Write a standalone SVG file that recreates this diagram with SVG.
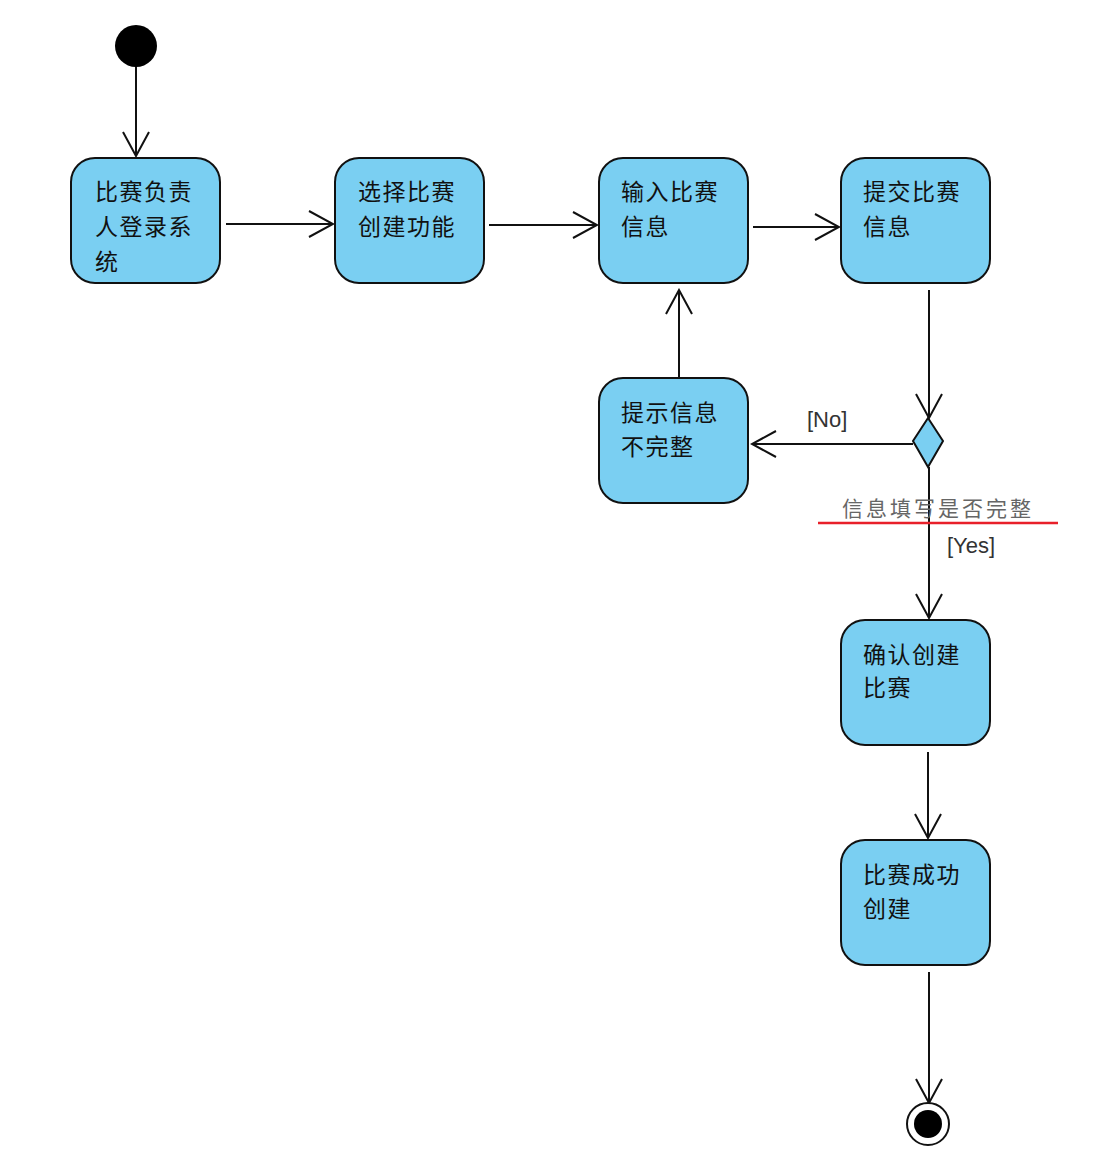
<svg xmlns="http://www.w3.org/2000/svg" width="1094" height="1153" viewBox="0 0 1094 1153">
<style>
.node rect{fill:#7ACFF2;stroke:#111;stroke-width:2}
.node text{font-family:"Noto Sans CJK SC","Liberation Sans",sans-serif;font-size:23px;letter-spacing:1.5px;fill:#111;dominant-baseline:central}
.conn line{stroke:#111;stroke-width:2;fill:none}
.lbl{font-family:"Liberation Sans",Arial,sans-serif;font-size:22px;fill:#333;dominant-baseline:central}
.guard{font-family:"Noto Sans CJK SC",sans-serif;font-size:21px;letter-spacing:3px;fill:#666;dominant-baseline:central}
</style>
<defs>
<marker id="arr" markerUnits="userSpaceOnUse" viewBox="-26 -15 28 30" refX="0" refY="0" markerWidth="28" markerHeight="30" orient="auto">
<path d="M-24,-13 L0,0 L-24,13" fill="none" stroke="#111" stroke-width="2"/>
</marker>
</defs>
<rect width="1094" height="1153" fill="#fff"/>
<g id="connectors" class="conn">
<line x1="136" y1="67" x2="136" y2="156" marker-end="url(#arr)"/>
<line x1="226" y1="224" x2="333" y2="224" marker-end="url(#arr)"/>
<line x1="489" y1="225" x2="597" y2="225" marker-end="url(#arr)"/>
<line x1="753" y1="227" x2="839" y2="227" marker-end="url(#arr)"/>
<line x1="929" y1="290" x2="929" y2="418" marker-end="url(#arr)"/>
<line x1="913" y1="444" x2="752" y2="444" marker-end="url(#arr)"/>
<line x1="679" y1="377" x2="679" y2="290" marker-end="url(#arr)"/>
<line x1="929" y1="467" x2="929" y2="618" marker-end="url(#arr)"/>
<line x1="928" y1="752" x2="928" y2="838" marker-end="url(#arr)"/>
<line x1="929" y1="972" x2="929" y2="1103" marker-end="url(#arr)"/>
<text class="lbl" x="807" y="419">[No]</text>
<text class="lbl" x="947" y="545">[Yes]</text>
<text class="guard" x="842" y="507">信息填写是否完整</text>
<line x1="818" y1="523" x2="1058" y2="523" style="stroke:#e8202a;stroke-width:2.5"/>
</g>
<g id="start"><circle cx="136" cy="46" r="21" fill="#000"/></g>
<g id="n1" class="node"><rect x="71" y="158" width="149" height="125" rx="24"/>
<text x="95" y="190">比赛负责</text><text x="95" y="225">人登录系</text><text x="95" y="260">统</text></g>
<g id="n2" class="node"><rect x="335" y="158" width="149" height="125" rx="24"/>
<text x="358" y="190">选择比赛</text><text x="358" y="225">创建功能</text></g>
<g id="n3" class="node"><rect x="599" y="158" width="149" height="125" rx="24"/>
<text x="621" y="190">输入比赛</text><text x="621" y="225">信息</text></g>
<g id="n4" class="node"><rect x="841" y="158" width="149" height="125" rx="24"/>
<text x="863" y="190">提交比赛</text><text x="863" y="225">信息</text></g>
<g id="decision"><polygon points="928,418 943,441 928,467 913,441" fill="#7ACFF2" stroke="#111" stroke-width="2"/></g>
<g id="n5" class="node"><rect x="599" y="378" width="149" height="125" rx="24"/>
<text x="621" y="411">提示信息</text><text x="621" y="445">不完整</text></g>
<g id="n6" class="node"><rect x="841" y="620" width="149" height="125" rx="24"/>
<text x="863" y="653">确认创建</text><text x="863" y="686">比赛</text></g>
<g id="n7" class="node"><rect x="841" y="840" width="149" height="125" rx="24"/>
<text x="863" y="873">比赛成功</text><text x="863" y="907">创建</text></g>
<g id="end"><circle cx="928" cy="1124" r="21" fill="#fff" stroke="#111" stroke-width="2"/><circle cx="928" cy="1124" r="14" fill="#000"/></g>
</svg>
